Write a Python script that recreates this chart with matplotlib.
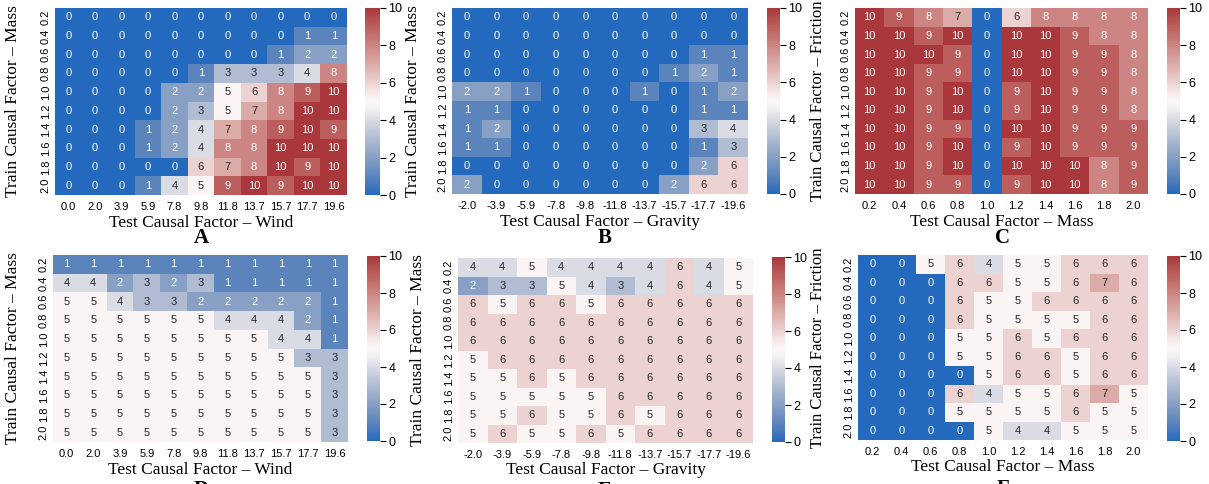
import numpy as np
import matplotlib
matplotlib.use("Agg")
import matplotlib.pyplot as plt
import seaborn as sns

# ---- data ----
train_vals = ["0.2", "0.4", "0.6", "0.8", "1.0", "1.2", "1.4", "1.6", "1.8", "2.0"]
wind_vals = ["0.0", "2.0", "3.9", "5.9", "7.8", "9.8", "11.8", "13.7", "15.7", "17.7", "19.6"]
gravity_vals = ["-2.0", "-3.9", "-5.9", "-7.8", "-9.8", "-11.8", "-13.7", "-15.7", "-17.7", "-19.6"]
mass_vals = ["0.2", "0.4", "0.6", "0.8", "1.0", "1.2", "1.4", "1.6", "1.8", "2.0"]

A = [[0, 0, 0, 0, 0, 0, 0, 0, 0, 0, 0],
     [0, 0, 0, 0, 0, 0, 0, 0, 0, 1, 1],
     [0, 0, 0, 0, 0, 0, 0, 0, 1, 2, 2],
     [0, 0, 0, 0, 0, 1, 3, 3, 3, 4, 8],
     [0, 0, 0, 0, 2, 2, 5, 6, 8, 9, 10],
     [0, 0, 0, 0, 2, 3, 5, 7, 8, 10, 10],
     [0, 0, 0, 1, 2, 4, 7, 8, 9, 10, 9],
     [0, 0, 0, 1, 2, 4, 8, 8, 10, 10, 10],
     [0, 0, 0, 0, 0, 6, 7, 8, 10, 9, 10],
     [0, 0, 0, 1, 4, 5, 9, 10, 9, 10, 10]]

B = [[0, 0, 0, 0, 0, 0, 0, 0, 0, 0],
     [0, 0, 0, 0, 0, 0, 0, 0, 0, 0],
     [0, 0, 0, 0, 0, 0, 0, 0, 1, 1],
     [0, 0, 0, 0, 0, 0, 0, 1, 2, 1],
     [2, 2, 1, 0, 0, 0, 1, 0, 1, 2],
     [1, 1, 0, 0, 0, 0, 0, 0, 1, 1],
     [1, 2, 0, 0, 0, 0, 0, 0, 3, 4],
     [1, 1, 0, 0, 0, 0, 0, 0, 1, 3],
     [0, 0, 0, 0, 0, 0, 0, 0, 2, 6],
     [2, 0, 0, 0, 0, 0, 0, 2, 6, 6]]

C = [[10, 9, 8, 7, 0, 6, 8, 8, 8, 8],
     [10, 10, 9, 10, 0, 10, 10, 9, 8, 8],
     [10, 10, 10, 9, 0, 10, 10, 9, 9, 8],
     [10, 10, 9, 9, 0, 10, 10, 9, 9, 8],
     [10, 10, 9, 10, 0, 9, 10, 9, 9, 8],
     [10, 10, 9, 10, 0, 9, 10, 9, 9, 8],
     [10, 10, 9, 9, 0, 10, 10, 9, 9, 9],
     [10, 10, 9, 10, 0, 9, 10, 9, 9, 9],
     [10, 10, 9, 10, 0, 10, 10, 10, 8, 9],
     [10, 10, 9, 9, 0, 9, 10, 10, 8, 9]]

D = [[1, 1, 1, 1, 1, 1, 1, 1, 1, 1, 1],
     [4, 4, 2, 3, 2, 3, 1, 1, 1, 1, 1],
     [5, 5, 4, 3, 3, 2, 2, 2, 2, 2, 1],
     [5, 5, 5, 5, 5, 5, 4, 4, 4, 2, 1],
     [5, 5, 5, 5, 5, 5, 5, 5, 4, 4, 1],
     [5, 5, 5, 5, 5, 5, 5, 5, 5, 3, 3],
     [5, 5, 5, 5, 5, 5, 5, 5, 5, 5, 3],
     [5, 5, 5, 5, 5, 5, 5, 5, 5, 5, 3],
     [5, 5, 5, 5, 5, 5, 5, 5, 5, 5, 3],
     [5, 5, 5, 5, 5, 5, 5, 5, 5, 5, 3]]

E = [[4, 4, 5, 4, 4, 4, 4, 6, 4, 5],
     [2, 3, 3, 5, 4, 3, 4, 6, 4, 5],
     [6, 5, 6, 6, 5, 6, 6, 6, 6, 6],
     [6, 6, 6, 6, 6, 6, 6, 6, 6, 6],
     [6, 6, 6, 6, 6, 6, 6, 6, 6, 6],
     [5, 6, 6, 6, 6, 6, 6, 6, 6, 6],
     [5, 5, 6, 5, 6, 6, 6, 6, 6, 6],
     [5, 5, 5, 5, 5, 6, 6, 6, 6, 6],
     [5, 5, 6, 5, 5, 6, 5, 6, 6, 6],
     [5, 6, 5, 5, 6, 5, 6, 6, 6, 6]]

F = [[0, 0, 5, 6, 4, 5, 5, 6, 6, 6],
     [0, 0, 0, 6, 6, 5, 5, 6, 7, 6],
     [0, 0, 0, 6, 5, 5, 6, 6, 6, 6],
     [0, 0, 0, 6, 5, 5, 5, 5, 6, 6],
     [0, 0, 0, 5, 5, 6, 5, 6, 6, 6],
     [0, 0, 0, 5, 5, 6, 6, 5, 6, 6],
     [0, 0, 0, 0, 5, 6, 6, 5, 6, 6],
     [0, 0, 0, 6, 4, 5, 5, 6, 7, 5],
     [0, 0, 0, 5, 5, 5, 5, 6, 5, 5],
     [0, 0, 0, 0, 5, 4, 4, 5, 5, 5]]

W, H = 1209, 484
fig = plt.figure(figsize=(W / 100, H / 100), dpi=100)


def px_axes(x0, y0, x1, y1):
    # pixel box (top-left origin) -> figure axes
    return fig.add_axes([x0 / W, 1 - y1 / H, (x1 - x0) / W, (y1 - y0) / H])


serif = "Liberation Serif"
sans = "Liberation Sans"

panels = [
    # data, xticks, xlabel, ylabel, heatmap box, cbar box, letter, letter pos, ylabel x, xlabel y
    (A, wind_vals, "Test Causal Factor \u2013 Wind", "Train Causal Factor \u2013 Mass",
     (55, 8, 347, 195), (365, 8, 380, 195), "A", (201, 238), 13, 223),
    (B, gravity_vals, "Test Causal Factor \u2013 Gravity", "Train Causal Factor \u2013 Mass",
     (452, 8, 748, 194), (767, 8, 780, 194), "B", (605, 238), 413, 222),
    (C, mass_vals, "Test Causal Factor \u2013 Mass", "Train Causal Factor \u2013 Friction",
     (855, 8, 1148, 194), (1167, 8, 1180, 194), "C", (1003, 238), 818, 222),
    (D, wind_vals, "Test Causal Factor \u2013 Wind", "Train Causal Factor \u2013 Mass",
     (53, 255, 348, 442), (367, 256, 380, 441), "D", (201, 490), 13, 470),
    (E, gravity_vals, "Test Causal Factor \u2013 Gravity", "Train Causal Factor \u2013 Mass",
     (458, 258, 753, 443), (772, 257, 785, 442), "E", (605, 491), 418, 470),
    (F, mass_vals, "Test Causal Factor \u2013 Mass", "Train Causal Factor \u2013 Friction",
     (858, 255, 1148, 440), (1167, 256, 1180, 441), "F", (1003, 489), 818, 467),
]

for data, xt, xl, yl, hbox, cbox, letter, lpos, ylx, xly in panels:
    ax = px_axes(*hbox)
    cax = px_axes(*cbox)
    sns.heatmap(np.array(data), ax=ax, cbar_ax=cax, cmap="vlag", vmin=0, vmax=10,
                annot=True, fmt="d", annot_kws={"fontsize": 8, "family": sans},
                xticklabels=xt, yticklabels=train_vals)
    ax.tick_params(length=0, labelsize=8, pad=5)
    ax.tick_params(axis="y", pad=3)
    for t in ax.get_xticklabels():
        t.set_rotation(0)
        t.set_family(sans)
    for t in ax.get_yticklabels():
        t.set_rotation(90)
        t.set_va("center")
        t.set_family(sans)
    fs = 12 if "Friction" in yl else 12.5
    ax.set_xlabel(xl, fontsize=12.5, family=serif)
    ax.set_ylabel(yl, fontsize=fs, family=serif)
    bw, bh = hbox[2] - hbox[0], hbox[3] - hbox[1]
    ax.xaxis.set_label_coords(0.5, 1 - (xly - hbox[1]) / bh)
    ax.xaxis.label.set_va("center")
    ax.yaxis.set_label_coords((ylx - hbox[0]) / bw, 0.5)
    ax.yaxis.label.set_va("center")
    cax.tick_params(length=4, width=0.8, labelsize=9, pad=2)
    cax.set_yticks([0, 2, 4, 6, 8, 10])
    for t in cax.get_yticklabels():
        t.set_family(sans)
    for s in cax.spines.values():
        s.set_visible(False)
    fig.text(lpos[0] / W, 1 - lpos[1] / H, letter, fontsize=15, fontweight="bold",
             family=serif, ha="center", va="center")

fig.savefig("out.png", dpi=100)
